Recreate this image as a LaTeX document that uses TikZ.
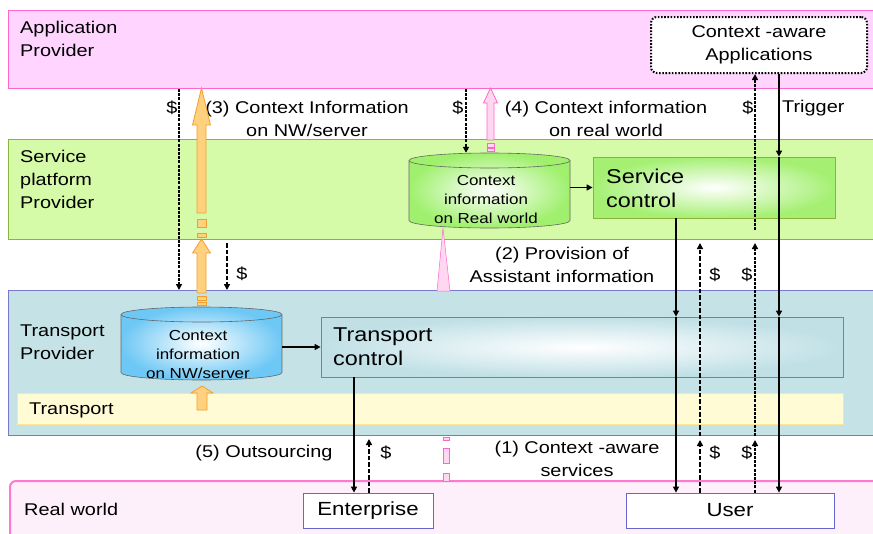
\documentclass[tikz,border=0pt]{standalone}
\usepackage{fontspec}
\setmainfont{Liberation Sans}[FakeStretch=1.17]
\usetikzlibrary{arrows.meta,positioning}
\definecolor{appfill}{RGB}{255,213,255}
\definecolor{appline}{RGB}{255,102,204}
\definecolor{spfill}{RGB}{213,250,168}
\definecolor{spline}{RGB}{140,180,60}
\definecolor{tpfill}{RGB}{197,227,230}
\definecolor{tpline}{RGB}{120,120,204}
\definecolor{trfill}{RGB}{255,252,213}
\definecolor{trline}{RGB}{255,230,150}
\definecolor{rwfill}{RGB}{253,240,250}
\definecolor{rwline}{RGB}{255,120,210}
\definecolor{cylgreen}{RGB}{160,240,110}
\definecolor{cylblue}{RGB}{110,200,245}
\definecolor{ctlgreen}{RGB}{165,240,115}
\definecolor{ctlblue}{RGB}{192,224,230}
\definecolor{boxline}{RGB}{102,102,204}
\definecolor{orfill}{RGB}{255,208,125}
\definecolor{orline}{RGB}{240,160,48}
\definecolor{pkfill}{RGB}{255,215,240}
\definecolor{pkline}{RGB}{255,102,204}
\tikzset{
  band/.style={draw, line width=1pt, anchor=north west, inner sep=0pt},
  lbl/.style={font=\fontsize{17}{23}\selectfont, align=center, inner sep=0pt},
  cylarea/.style={minimum width=161pt, minimum height=75pt, inner sep=0pt},
  cylline/.style={draw=black!60, line width=0.6pt},
  cyltxt/.style={font=\fontsize{14.5}{19}\selectfont, align=center, inner sep=0pt},
  ctltxt/.style={font=\fontsize{20}{24}\selectfont, align=left, inner sep=0pt, anchor=west},
  box/.style={draw=boxline, fill=white, line width=0.8pt, font=\fontsize{19}{23}\selectfont, inner sep=0pt},
  flow/.style={line width=1.5pt, -{Triangle[length=6pt,width=6pt]}},
  paydot/.style={line width=2pt, dash pattern=on 3pt off 1.2pt, -{Triangle[length=6pt,width=6pt]}},
  paydash/.style={line width=1.4pt, dash pattern=on 4.5pt off 2pt, -{Triangle[length=6pt,width=6pt]}},
  blockor/.style={fill=orfill, draw=orline, line width=0.8pt},
  blockpk/.style={fill=pkfill, draw=pkline, line width=0.8pt}
}
\begin{document}
\begin{tikzpicture}[x=1pt,y=-1pt]
\useasboundingbox (0,0) rectangle (873,533);
\node[band, fill=appfill, draw=appline, minimum width=870pt, minimum height=78pt] (app) at (8,10) {};
\node[band, fill=spfill, draw=spline, minimum width=870pt, minimum height=100pt] (sp) at (8,139) {};
\node[band, fill=tpfill, draw=tpline, minimum width=870pt, minimum height=145pt] (tp) at (8,290) {};
\node[band, fill=trfill, draw=trline, minimum width=826pt, minimum height=31pt] (tr) at (17,393) {};
\fill[rwfill, rounded corners=6pt] (10,545) -- (10,481) -- (880,481) -- (880,545) -- cycle;
\draw[rwline, line width=2pt, rounded corners=6pt] (10,545) -- (10,481) -- (880,481);

\node[lbl, align=left, anchor=west] (appLbl) at (20,39) {Application\\Provider};
\node[lbl, align=left, anchor=west] (spLbl) at (20,179) {Service\\platform\\Provider};
\node[lbl, align=left, anchor=west] (tpLbl) at (20,342) {Transport\\Provider};
\node[lbl, anchor=west] (trLbl) at (29,410) {Transport};
\node[lbl, anchor=west] (rwLbl) at (24,509) {Real world};

\node[lbl, draw, line width=2pt, dash pattern=on 1.6pt off 1.6pt, rounded corners=6pt, fill=white,
  minimum width=216pt, minimum height=56pt] (apps) at (759,45) {Context -aware\\Applications};

% database cylinders
\node[cylarea] (cylR) at (489.5,190.5) {};
\shade[cylline, inner color=white, outer color=cylgreen] (409,160.5) -- (409,220.5)
  arc[start angle=180, end angle=0, x radius=80.5, y radius=7.5] -- (570,160.5)
  arc[start angle=0, end angle=-180, x radius=80.5, y radius=7.5] -- cycle;
\draw[cylline] (409,160.5) arc[start angle=180, end angle=0, x radius=80.5, y radius=7.5];
\node[cyltxt] (cylRTxt) at (486,200) {Context\\information\\on Real world};
\node[cylarea, minimum height=73pt] (cylN) at (201.5,343.5) {};
\shade[cylline, inner color=white, outer color=cylblue] (121,314.5) -- (121,372.5)
  arc[start angle=180, end angle=0, x radius=80.5, y radius=7.5] -- (282,314.5)
  arc[start angle=0, end angle=-180, x radius=80.5, y radius=7.5] -- cycle;
\draw[cylline] (121,314.5) arc[start angle=180, end angle=0, x radius=80.5, y radius=7.5];
\node[cyltxt] (cylNTxt) at (198,355) {Context\\information\\on NW/server};

\node[draw=spline, line width=0.8pt, shade, inner color=white, outer color=ctlgreen,
  minimum width=242pt, minimum height=61pt] (sctl) at (714,187.5) {};
\node[ctltxt] (sctlTxt) at (606,188) {Service\\control};
\node[draw=tpline, line width=0.8pt, shade, inner color=white, outer color=ctlblue,
  minimum width=522pt, minimum height=60pt] (tctl) at (582,347) {};
\node[ctltxt] (tctlTxt) at (333,347) {Transport\\control};
\node[box, minimum width=130pt, minimum height=35pt] (ent) at (368,510.5) {Enterprise};
\node[box, minimum width=208pt, minimum height=35pt] (user) at (730,510.5) {User};

\node[lbl] (l3) at (307,119) {(3) Context Information\\on NW/server};
\node[lbl] (l4) at (606,119) {(4) Context information\\on real world};
\node[lbl, anchor=west] (trig) at (782,108) {Trigger};
\node[lbl] (l2) at (562,265) {(2) Provision of\\Assistant information};
\node[lbl] (l5) at (264,453) {(5) Outsourcing};
\node[lbl] (l1) at (577,459) {(1) Context -aware\\services};
\foreach \x/\y [count=\i] in {172/108,458/108,748/108,242/274,715/275,747/275,386/453,715/453,747/453}
  \node[lbl] (d\i) at (\x,\y) {\$};

\draw[blockor] (201.5,88) -- (210.5,125) -- (206,125) -- (206,213) -- (197,213) -- (197,125) -- (192.5,125) -- cycle;
\draw[blockor] (197,219) rectangle (206,227);
\draw[blockor] (197,233) rectangle (206,237);
\draw[blockor] (201.5,239) -- (210.5,253) -- (206,253) -- (206,293) -- (197,293) -- (197,253) -- (192.5,253) -- cycle;
\draw[blockor] (197,296) rectangle (206,300);
\draw[blockor] (197,302.5) rectangle (206,305);
\draw[blockor] (202,386) -- (213,393) -- (207,393) -- (207,410) -- (197,410) -- (197,393) -- (191,393) -- cycle;
\draw[blockpk] (490.5,88) -- (497.5,103) -- (494,103) -- (494,140) -- (487,140) -- (487,103) -- (483.5,103) -- cycle;
\draw[blockpk] (487,143) rectangle (494,147);
\draw[blockpk] (487,148.5) rectangle (494,151);
\draw[blockpk, line width=0.5pt] (443,228) -- (450,291) -- (437,291) -- cycle;
\draw[blockpk] (443,437) rectangle (449,440);
\draw[blockpk] (443,448) rectangle (449,463);
\draw[blockpk] (443,473) rectangle (449,481);

\draw[paydot] (179,0 |- app.south) -- (179,0 |- tp.north);
\draw[paydash, shorten <=3pt] (227,0 |- sp.south) -- (227,0 |- tp.north);
\draw[paydot] (466,0 |- app.south) -- (466,0 |- cylR.north);
\draw[flow] (cylN.east |- tctl.west) -- (tctl.west);
\draw[flow] (cylR.east |- sctl.west) -- (sctl.west);
\draw[flow] (676,0 |- sctl.south) -- (676,0 |- tctl.north);
\draw[flow, line width=1.2pt] (676,0 |- tctl.north) -- (676,0 |- user.north);
\draw[flow] (779,0 |- apps.south) -- (779,0 |- sctl.north);
\draw[flow] (779,0 |- sctl.north) -- (779,0 |- tctl.north);
\draw[flow, line width=1.2pt] (779,0 |- tctl.north) -- (779,0 |- user.north);
\coordinate (payTop) at (755,230);
\draw[paydot] (payTop) -- (755,0 |- apps.south);
\draw[paydot, shorten >=4pt] (755,0 |- user.north) -- (755,0 |- tp.south);
\draw[paydot, shorten >=3pt] (755,0 |- tp.south) -- (755,0 |- sp.south);
\draw[paydash, shorten >=4pt] (700,0 |- user.north) -- (700,0 |- tp.south);
\draw[paydash, shorten >=3pt] (700,0 |- tp.south) -- (700,0 |- sp.south);
\draw[flow] (354,0 |- tctl.south) -- (354,0 |- ent.north);
\draw[paydash, shorten >=3pt] (369,0 |- ent.north) -- (369,0 |- tp.south);
\end{tikzpicture}
\end{document}
